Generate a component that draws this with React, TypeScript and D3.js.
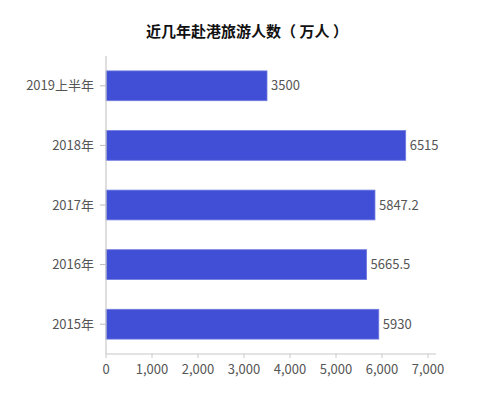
import React from "react";
import * as d3 from "d3";

const categories = ["2019上半年", "2018年", "2017年", "2016年", "2015年"];
const values = [3500, 6515, 5847.2, 5665.5, 5930];
const valueLabels = ["3500", "6515", "5847.2", "5665.5", "5930"];
const xTicks = [0, 1000, 2000, 3000, 4000, 5000, 6000, 7000];
const title = "近几年赴港旅游人数（ 万人 ）";

export default function App() {
  const W = 500, H = 400;
  const left = 106, right = 428, top = 56, bottom = 354;
  const x = d3.scaleLinear().domain([0, 7000]).range([left, right]);
  const y = d3.scaleBand().domain(categories).range([top, bottom]).paddingInner(0.5).paddingOuter(0.25);
  const fmt = d3.format(",");
  const font = "'Noto Sans CJK SC', 'Noto Sans', sans-serif";
  const grey = "#555";
  return (
    <svg width={W} height={H} style={{ position: "absolute", left: 0, top: 0 }} fontFamily={font}>
      <rect width={W} height={H} fill="#fff" />
      <text x={247} y={37} textAnchor="middle" fontSize={15} fontWeight="bold" fill="#111">{title}</text>
      {categories.map((c, i) => (
        <g key={c}>
          <rect x={x(0)} y={y(c)!} width={x(values[i]) - x(0)} height={y.bandwidth()} fill="#414fd6" stroke="#6f7be0" strokeWidth={0.8} />
          <text x={x(values[i]) + 4} y={y(c)! + y.bandwidth() / 2} dy="0.35em" fontSize={13} fill={grey}>{valueLabels[i]}</text>
          <line x1={left - 6} x2={left} y1={y(c)! + y.bandwidth() / 2} y2={y(c)! + y.bandwidth() / 2} stroke="#bbb" />
          <text x={left - 12} y={y(c)! + y.bandwidth() / 2} dy="0.35em" textAnchor="end" fontSize={13} fill={grey}>{c}</text>
        </g>
      ))}
      <line x1={left} x2={left} y1={top} y2={bottom} stroke="#c8c8c8" strokeWidth={1.2} />
      <line x1={left} x2={436} y1={bottom} y2={bottom} stroke="#c8c8c8" strokeWidth={1.2} />
      {xTicks.map((t) => (
        <g key={t}>
          <line x1={x(t)} x2={x(t)} y1={bottom} y2={bottom + 4} stroke="#c8c8c8" />
          <text x={x(t)} y={bottom + 15} dy="0.35em" textAnchor="middle" fontSize={13} fill={grey}>{fmt(t)}</text>
        </g>
      ))}
    </svg>
  );
}
